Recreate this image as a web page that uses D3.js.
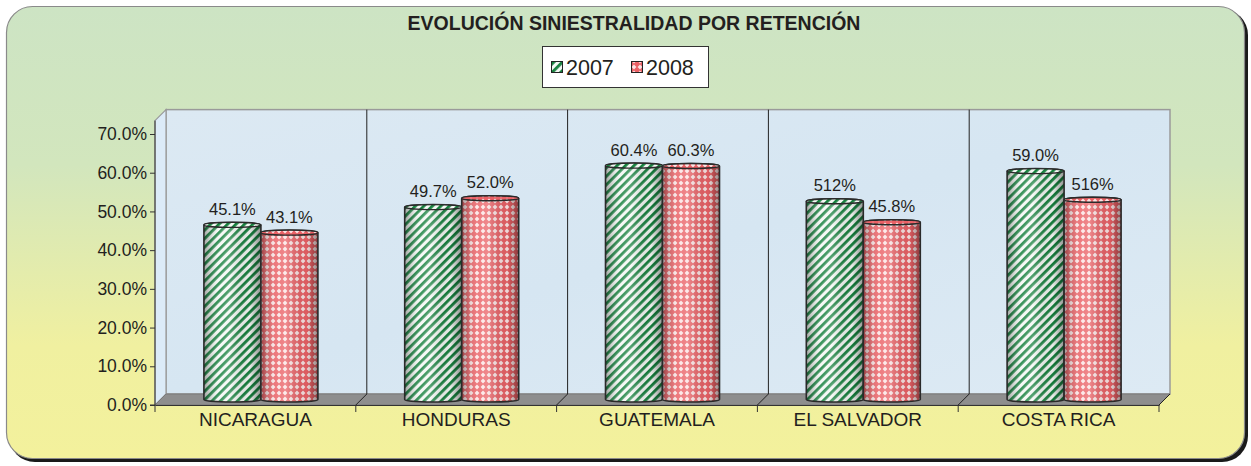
<!DOCTYPE html>
<html>
<head>
<meta charset="utf-8">
<script src="https://cdn.jsdelivr.net/npm/d3@7"></script>
<style>
  body { margin: 0; background: #fff; }
  text { font-family: "Liberation Sans", Arial, sans-serif; fill: #231f20; }
</style>
</head>
<body>
<div id="chart"></div>
<script>
// data
var categories = ["NICARAGUA", "HONDURAS", "GUATEMALA", "EL SALVADOR", "COSTA RICA"];
var series = ["2007", "2008"];
var values2007 = [45.1, 49.7, 60.4, 51.2, 59.0];
var values2008 = [43.1, 52.0, 60.3, 45.8, 51.6];
var labels2007 = ["45.1%", "49.7%", "60.4%", "512%", "59.0%"];
var labels2008 = ["43.1%", "52.0%", "60.3%", "45.8%", "516%"];
var yTicks = [0, 10, 20, 30, 40, 50, 60, 70];

var W = 1251, H = 466;
var depth = 11; // 3d offset of the back wall

var svg = d3.select("#chart").append("svg")
  .attr("width", W).attr("height", H);
var defs = svg.append("defs");

// frame background gradient
var bg = defs.append("linearGradient").attr("id", "bg")
  .attr("x1", 0).attr("y1", 0).attr("x2", 0).attr("y2", 1);
bg.append("stop").attr("offset", "0%").attr("stop-color", "#cde4c4");
bg.append("stop").attr("offset", "35%").attr("stop-color", "#d2e6bd");
bg.append("stop").attr("offset", "75%").attr("stop-color", "#f0f0a0");
bg.append("stop").attr("offset", "100%").attr("stop-color", "#f3f19c");

var wall = defs.append("linearGradient").attr("id", "wall")
  .attr("x1", 0).attr("y1", 0).attr("x2", 1).attr("y2", 1);
wall.append("stop").attr("offset", "0%").attr("stop-color", "#dce9f3");
wall.append("stop").attr("offset", "50%").attr("stop-color", "#d6e6f2");
wall.append("stop").attr("offset", "100%").attr("stop-color", "#ddeaf4");

// stripe pattern for 2007
var pg = defs.append("pattern").attr("id", "pGreen")
  .attr("patternUnits", "userSpaceOnUse").attr("width", 6).attr("height", 6)
  .attr("patternTransform", "rotate(45)");
pg.append("rect").attr("width", 6).attr("height", 6).attr("fill", "#f4f8f4");
pg.append("rect").attr("width", 2.8).attr("height", 6).attr("fill", "#15803d");

// lattice pattern for 2008
var pr = defs.append("pattern").attr("id", "pRed")
  .attr("patternUnits", "userSpaceOnUse").attr("width", 6).attr("height", 6);
pr.append("rect").attr("width", 6).attr("height", 6).attr("fill", "#ea6166");
pr.append("path").attr("d", "M3,0.6 L5.4,3 L3,5.4 L0.6,3 Z").attr("fill", "#fbe4e4");

// cylinder shading
var shade = defs.append("linearGradient").attr("id", "shade")
  .attr("x1", 0).attr("y1", 0).attr("x2", 1).attr("y2", 0);
shade.append("stop").attr("offset", "0%").attr("stop-color", "#000").attr("stop-opacity", 0.35);
shade.append("stop").attr("offset", "25%").attr("stop-color", "#fff").attr("stop-opacity", 0.15);
shade.append("stop").attr("offset", "45%").attr("stop-color", "#fff").attr("stop-opacity", 0.25);
shade.append("stop").attr("offset", "80%").attr("stop-color", "#000").attr("stop-opacity", 0.05);
shade.append("stop").attr("offset", "100%").attr("stop-color", "#000").attr("stop-opacity", 0.4);

// outer frame
svg.append("rect").attr("x", 9).attr("y", 9).attr("width", 1239).attr("height", 453)
  .attr("rx", 26).attr("fill", "#1a1a1a");
svg.append("rect").attr("x", 6.5).attr("y", 6.5).attr("width", 1238).attr("height", 452)
  .attr("rx", 26).attr("fill", "url(#bg)").attr("stroke", "#8a8a8a").attr("stroke-width", 1.2);

// title
svg.append("text").attr("x", 634).attr("y", 30)
  .attr("text-anchor", "middle").style("font-size", "19.5px").style("font-weight", "bold")
  .text("EVOLUCIÓN SINIESTRALIDAD POR RETENCIÓN");

// scales
var x0 = d3.scaleBand().domain(categories).range([155, 1159]);
var x1 = d3.scaleBand().domain(series).range([0, 114]);
var y = d3.scaleLinear().domain([0, 70]).range([405, 134]);
var yTop = y(76.3);

// back wall
svg.append("rect").attr("x", 155 + depth).attr("y", yTop)
  .attr("width", 1004).attr("height", 405 - depth - yTop)
  .attr("fill", "url(#wall)").attr("stroke", "#9a9a9a").attr("stroke-width", 1.5);
// left wall
svg.append("path")
  .attr("d", "M155," + (yTop + depth) + " L" + (155 + depth) + "," + yTop + " L" + (155 + depth) + "," + (405 - depth) + " L155,405 Z")
  .attr("fill", "#dcebf8").attr("stroke", "#9a9a9a").attr("stroke-width", 1.2);
// floor
svg.append("path")
  .attr("d", "M155,405 L" + (155 + depth) + "," + (405 - depth) + " L" + (1159 + depth) + "," + (405 - depth) + " L1159,405 Z")
  .attr("fill", "#8e8e8e").attr("stroke", "#7a7a7a").attr("stroke-width", 1);

// category separators
var seps = categories.slice(1).map(function(c){ return x0(c); });
svg.selectAll(".sep").data(seps).enter().append("line")
  .attr("x1", function(d){ return d + depth; }).attr("x2", function(d){ return d + depth; })
  .attr("y1", yTop).attr("y2", 405 - depth)
  .attr("stroke", "#222").attr("stroke-width", 1);
svg.selectAll(".sepf").data(seps.concat([1159])).enter().append("line")
  .attr("x1", function(d){ return d; }).attr("x2", function(d){ return d + depth; })
  .attr("y1", 405).attr("y2", 405 - depth)
  .attr("stroke", "#222").attr("stroke-width", 1);

// y axis
var yAxis = d3.axisLeft(y).tickValues(yTicks).tickSize(5).tickPadding(3)
  .tickFormat(function(d){ return d.toFixed(1) + "%"; });
var gy = svg.append("g").attr("transform", "translate(155,0)").call(yAxis);
gy.select(".domain").attr("d", "M-5," + y(0) + "H0V" + (yTop + depth)).attr("stroke", "#333");
gy.selectAll(".tick line").attr("stroke", "#333");
gy.selectAll(".tick text").style("font-size", "17.5px").style("font-family", "Liberation Sans, Arial, sans-serif").attr("fill", "#231f20");

// x axis
var xAxis = d3.axisBottom(x0).tickSize(0).tickPadding(8);
var gx = svg.append("g").attr("transform", "translate(0,405)").call(xAxis);
gx.select(".domain").attr("stroke", "#333");
gx.selectAll(".tick text").style("font-size", "19px").style("font-family", "Liberation Sans, Arial, sans-serif").attr("fill", "#231f20");
svg.selectAll(".xt").data([155].concat(seps).concat([1159])).enter().append("line")
  .attr("x1", function(d){ return d; }).attr("x2", function(d){ return d; })
  .attr("y1", 405).attr("y2", 412).attr("stroke", "#333");

// bars as cylinders
var rows = [];
categories.forEach(function(c, i){
  rows.push({cat: c, s: "2007", v: values2007[i], label: labels2007[i], fill: "url(#pGreen)"});
  rows.push({cat: c, s: "2008", v: values2008[i], label: labels2008[i], fill: "url(#pRed)"});
});
var half = depth / 2;
var bw = x1.bandwidth();
function bx(d){ return x0(d.cat) + (x0.bandwidth() - 114) / 2 + x1(d.s) + half; }
function cyl(d){
  var l = bx(d), top = y(d.v) - half, bot = y(0) - half, ry = 2.5;
  return "M" + l + "," + top +
    " A" + bw/2 + "," + ry + " 0 0 1 " + (l + bw) + "," + top +
    " L" + (l + bw) + "," + bot +
    " A" + bw/2 + "," + ry + " 0 0 1 " + l + "," + bot + " Z";
}
var bars = svg.selectAll(".bar").data(rows).enter().append("g").attr("class", "bar");
bars.append("path").attr("d", cyl).attr("fill", function(d){ return d.fill; });
bars.append("path").attr("d", cyl).attr("fill", "url(#shade)")
  .attr("stroke", "#2a2a2a").attr("stroke-width", 1.6);
bars.append("ellipse")
  .attr("cx", function(d){ return bx(d) + bw/2; })
  .attr("cy", function(d){ return y(d.v) - half; })
  .attr("rx", bw/2).attr("ry", 2.5)
  .attr("fill", function(d){ return d.fill; }).attr("stroke", "#2a2a2a").attr("stroke-width", 1.4);

// value labels
bars.append("text")
  .attr("x", function(d){ return bx(d) + bw/2; })
  .attr("y", function(d){ return y(d.v) - half - 10; })
  .attr("text-anchor", "middle").style("font-size", "16.5px")
  .text(function(d){ return d.label; });

// legend
var lg = svg.append("g").attr("transform", "translate(542,46)");
lg.append("rect").attr("x", 0.5).attr("y", 0.5).attr("width", 166).attr("height", 41)
  .attr("fill", "#fff").attr("stroke", "#333").attr("stroke-width", 1);
var li = lg.selectAll(".li").data(series).enter().append("g")
  .attr("transform", function(d, i){ return "translate(" + (9 + i * 80) + ",0)"; });
li.append("rect").attr("x", 0.5).attr("y", 15.5).attr("width", 11).attr("height", 11)
  .attr("fill", function(d, i){ return i ? "url(#pRed)" : "url(#pGreen)"; })
  .attr("stroke", "#222").attr("stroke-width", 1);
li.append("text").attr("x", 15).attr("y", 29).style("font-size", "21.5px")
  .text(function(d){ return d; });
</script>
</body>
</html>
